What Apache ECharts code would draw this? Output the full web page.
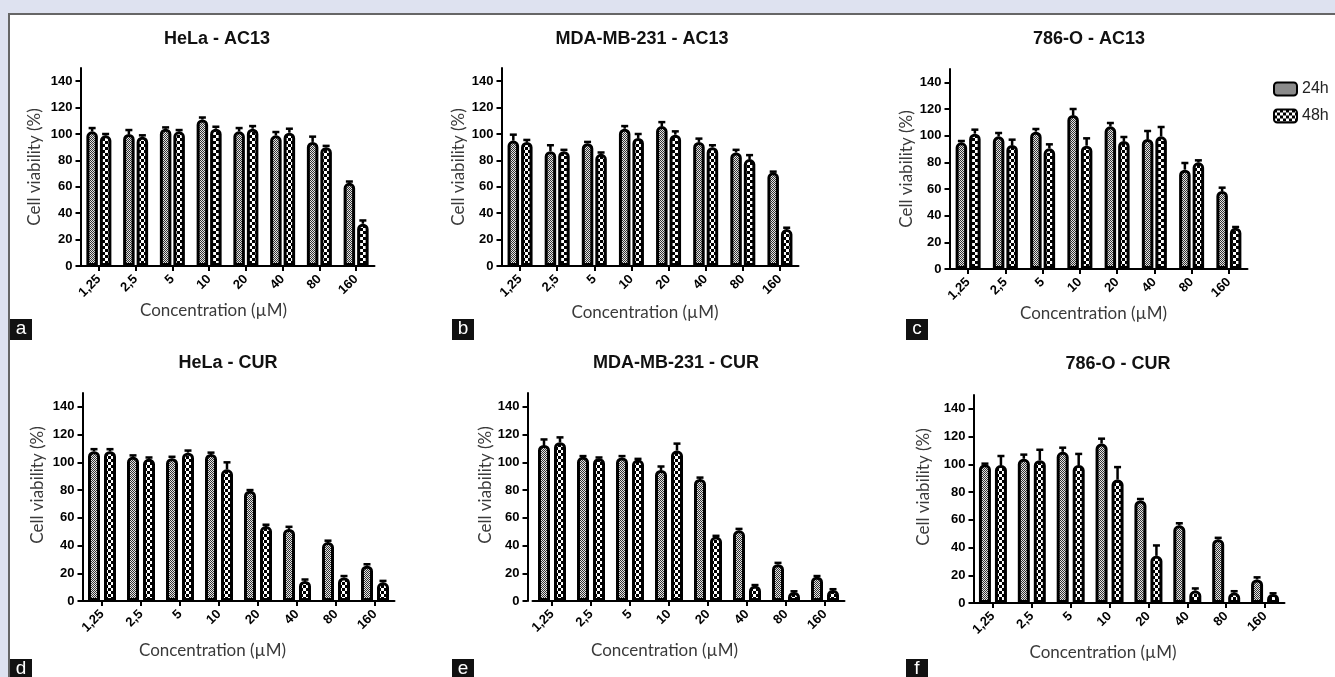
<!DOCTYPE html>
<html><head><meta charset="utf-8">
<script src="https://cdn.jsdelivr.net/npm/echarts@6/dist/echarts.min.js"></script>
<style>html,body{margin:0;padding:0;background:#dee2f0;}#c{width:1335px;height:677px;}</style>
</head><body><div id="c"></div>
<script>
// ---------- DATA ----------
const categories = ['1,25', '2,5', '5', '10', '20', '40', '80', '160'];
const yTickValues = [0, 20, 40, 60, 80, 100, 120, 140];
const seriesNames = ['24h', '48h'];

const helaAc13_24 = [102, 100, 104, 111, 102, 99, 94, 63];
const helaAc13_24err = [2.5, 3, 1, 1.5, 2.5, 2.5, 4, 1];
const helaAc13_48 = [99, 98, 102, 104, 104, 101, 90, 32];
const helaAc13_48err = [1, 1, 1, 1.5, 2, 3, 1, 2.5];

const mdaAc13_24 = [95, 87, 93, 104, 106, 94, 86, 71];
const mdaAc13_24err = [4.5, 4.5, 1, 2, 3, 2.5, 2, 0.5];
const mdaAc13_48 = [94, 87, 85, 97, 99.5, 90, 81, 28];
const mdaAc13_48err = [1.5, 1, 1, 3, 2.5, 1.5, 3, 1];

const o786Ac13_24 = [95, 99.5, 103, 115.5, 107, 97.5, 74.5, 58.5];
const o786Ac13_24err = [1, 2.5, 2, 4.5, 2.5, 6, 5, 2.5];
const o786Ac13_48 = [101.5, 93, 90.5, 92.5, 96, 99.5, 80, 31];
const o786Ac13_48err = [3, 4, 3, 5.5, 3, 7, 1.5, 0.5];

const helaCur_24 = [108, 104, 103, 106, 79.5, 52, 42.5, 25.5];
const helaCur_24err = [1.5, 1, 1, 1, 0.5, 1.5, 1, 1];
const helaCur_48 = [108, 102.5, 107, 95, 54, 14.5, 17, 13.5];
const helaCur_48err = [1.5, 1, 1.5, 5, 1, 1, 1, 1];

const mdaCur_24 = [112.5, 104, 103.5, 94.5, 88, 51, 26.5, 17.5];
const mdaCur_24err = [4, 0.5, 1, 2.5, 1, 1, 1, 0.5];
const mdaCur_48 = [114.5, 103, 102, 108.5, 46.5, 11, 6.5, 8];
const mdaCur_48err = [3.5, 0.5, 0.5, 5, 0.5, 0.5, 0.5, 0.5];

const o786Cur_24 = [100, 104, 109, 115, 74, 56, 46, 17];
const o786Cur_24err = [0.5, 3, 3, 3.5, 1, 1.5, 1, 1.5];
const o786Cur_48 = [99.5, 103, 99.5, 89, 34, 9, 7.5, 6.5];
const o786Cur_48err = [6.5, 7.5, 8, 9, 7.5, 1.5, 1, 0.5];

const titles = ['HeLa - AC13', 'MDA-MB-231 - AC13', '786-O - AC13', 'HeLa - CUR', 'MDA-MB-231 - CUR', '786-O - CUR'];
const panelLetters = ['a', 'b', 'c', 'd', 'e', 'f'];
const values24 = [helaAc13_24, mdaAc13_24, o786Ac13_24, helaCur_24, mdaCur_24, o786Cur_24];
const errs24 = [helaAc13_24err, mdaAc13_24err, o786Ac13_24err, helaCur_24err, mdaCur_24err, o786Cur_24err];
const values48 = [helaAc13_48, mdaAc13_48, o786Ac13_48, helaCur_48, mdaCur_48, o786Cur_48];
const errs48 = [helaAc13_48err, mdaAc13_48err, o786Ac13_48err, helaCur_48err, mdaCur_48err, o786Cur_48err];

// ---------- LAYOUT ----------
const layout = [
  {left: 80.5, top: 68, width: 294, height: 198, titleX: 212, titleY: 25, barW: 11.5, gap: 0.174, yOff: 0, yGap: 37, yPad: 0, xGap: 36, xShift: -14, letter: [10, 319]},
  {left: 501.5, top: 68, width: 297, height: 198, titleX: 637, titleY: 25, barW: 11.5, gap: 0.174, yOff: 0, yGap: 34, yPad: 0, xGap: 38, xShift: -5, letter: [452, 319]},
  {left: 949.5, top: 69, width: 298, height: 200, titleX: 1084, titleY: 25, barW: 11.5, gap: 0.174, yOff: 0, yGap: 34, yPad: 0, xGap: 34, xShift: -5, letter: [906, 319]},
  {left: 82.5, top: 393, width: 312, height: 208, titleX: 223, titleY: 349, barW: 12, gap: 0.333, yOff: 0, yGap: 36, yPad: 12, xGap: 41, xShift: -26, letter: [10, 659]},
  {left: 532.5, top: 393, width: 312, height: 208, titleX: 671, titleY: 349, barW: 12, gap: 0.333, yOff: 5, yGap: 31, yPad: 12, xGap: 41, xShift: -24, letter: [452, 659]},
  {left: 973.5, top: 395, width: 311, height: 208, titleX: 1113, titleY: 350, barW: 12, gap: 0.333, yOff: 0, yGap: 41, yPad: 12, xGap: 41, xShift: -26, letter: [906, 659]}
];

function makePattern(cell, dark, light) {
  const c = document.createElement('canvas');
  c.width = c.height = cell * 2;
  const ctx = c.getContext('2d');
  ctx.fillStyle = light; ctx.fillRect(0, 0, cell * 2, cell * 2);
  ctx.fillStyle = dark; ctx.fillRect(0, 0, cell, cell); ctx.fillRect(cell, cell, cell, cell);
  return c;
}
const pat24 = {image: makePattern(1, '#333', '#e4e4e4'), repeat: 'repeat'};
const pat48 = {image: makePattern(3, '#000', '#ffffff'), repeat: 'repeat'};

const FONT = 'Liberation Sans';
const grid = [], xAxis = [], yAxis = [], series = [], title = [], graphic = [];

graphic.push({type: 'rect', shape: {x: 9, y: 14, width: 1400, height: 700}, style: {fill: '#fff', stroke: '#666', lineWidth: 2}, z: -10, silent: true});

layout.forEach((L, i) => {
  grid.push({left: L.left, top: L.top, width: L.width, height: L.height, containLabel: false});
  title.push({text: titles[i], left: L.titleX, top: L.titleY, textAlign: 'center',
    textStyle: {fontFamily: FONT, fontWeight: 'bold', fontSize: 18, color: '#111'}});
  xAxis.push({type: 'category', gridIndex: i, data: categories, boundaryGap: true,
    axisLine: {show: true, lineStyle: {color: '#000', width: 2}},
    axisTick: {show: true, alignWithLabel: true, length: 5, lineStyle: {color: '#000', width: 2}},
    axisLabel: {rotate: 45, margin: 11, fontFamily: FONT, fontWeight: 'bold', fontSize: 13, color: '#000', interval: 0},
    name: 'Concentration (\u00b5M)', nameLocation: 'middle', nameGap: L.xGap,
    nameTextStyle: {fontFamily: 'Lato', fontSize: 17, color: '#3a3a3a', padding: [0, -2 * L.xShift, 0, 0]}
  });
  yAxis.push({type: 'value', gridIndex: i, min: 0, max: 150, offset: L.yOff,
    axisLine: {show: true, lineStyle: {color: '#000', width: 2}},
    axisTick: {show: true, length: 5, customValues: yTickValues, lineStyle: {color: '#000', width: 2}},
    axisLabel: {customValues: yTickValues, margin: 8, fontFamily: FONT, fontWeight: 'bold', fontSize: 13, color: '#000'},
    splitLine: {show: false},
    name: 'Cell viability (%)', nameLocation: 'middle', nameRotate: 90, nameGap: L.yGap,
    nameTextStyle: {fontFamily: 'Lato', fontSize: 17, color: '#3a3a3a', padding: [0, 0, 0, 2 * L.yPad]}
  });
  const pats = [pat24, pat48];
  const vals = [values24[i], values48[i]];
  const errs = [errs24[i], errs48[i]];
  for (let s = 0; s < 2; s++) {
    series.push({type: 'bar', name: seriesNames[s], xAxisIndex: i, yAxisIndex: i,
      data: vals[s], barWidth: L.barW, barGap: (L.gap * 100) + '%',
      itemStyle: {color: pats[s], borderColor: '#000', borderWidth: 3, borderRadius: [4, 4, 0, 0]},
      emphasis: {disabled: true}, z: 2});
    const dir = s === 0 ? -1 : 1;
    const off = dir * L.barW * (1 + L.gap) / 2;
    series.push({type: 'custom', name: 'err' + i + s, xAxisIndex: i, yAxisIndex: i, z: 3,
      data: vals[s].map((v, k) => [k, v, errs[s][k]]),
      renderItem: function (params, api) {
        const base = api.coord([api.value(0), api.value(1)]);
        const top = api.coord([api.value(0), api.value(1) + api.value(2)]);
        const x = base[0] + off;
        const cap = 3.5;
        return {type: 'group', children: [
          {type: 'line', shape: {x1: x, y1: base[1], x2: x, y2: top[1]}, style: {stroke: '#000', lineWidth: 2.5}},
          {type: 'line', shape: {x1: x - cap, y1: top[1], x2: x + cap, y2: top[1]}, style: {stroke: '#000', lineWidth: 2.5}}
        ]};
      }, silent: true});
  }
  graphic.push({type: 'group', left: L.letter[0], top: L.letter[1], children: [
    {type: 'rect', shape: {x: 0, y: 0, width: 22, height: 21}, style: {fill: '#111'}},
    {type: 'text', x: 11, y: 10, style: {text: panelLetters[i], fill: '#fff', font: '19px ' + FONT, textAlign: 'center', textVerticalAlign: 'middle'}}
  ]});
});

const chart = echarts.init(document.getElementById('c'), null, {renderer: 'canvas'});
chart.setOption({
  animation: false,
  backgroundColor: '#dee2f0',
  title: title,
  legend: {data: seriesNames, orient: 'vertical', left: 1268, top: 76, itemWidth: 23, itemHeight: 13, itemGap: 11,
    icon: 'roundRect', selectedMode: false,
    textStyle: {fontFamily: FONT, fontSize: 16, color: '#222'}},
  grid: grid, xAxis: xAxis, yAxis: yAxis, series: series, graphic: graphic
});
</script></body></html>
